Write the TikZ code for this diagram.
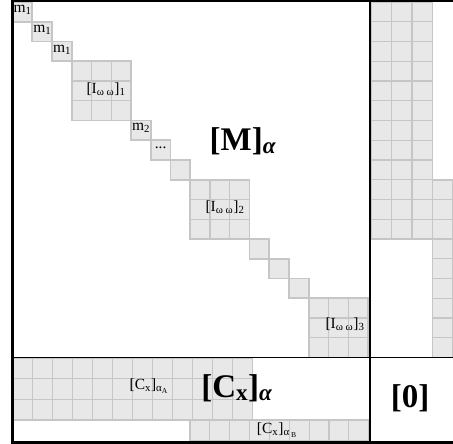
\documentclass[tikz,border=0pt]{standalone}
\usepackage{fontspec}
\setmainfont{Liberation Serif}
\definecolor{cellfill}{HTML}{E8E8E8}
\definecolor{cellline}{HTML}{C6C6C6}
\tikzset{
  cell/.style={fill=cellfill, draw=cellline, line width=1.1pt},
  blockedge/.style={draw=cellline, line width=1.7pt},
  frameline/.style={draw=black, line width=2.2pt},
  divider/.style={draw=black, line width=1.8pt},
  smalllabel/.style={font=\fontsize{15.5}{18}\selectfont, inner sep=0pt},
  biglabel/.style={font=\fontsize{33}{38}\selectfont\bfseries, inner sep=0pt},
}
% x y cols rows cellwidth cellheight
\newcommand\mygridblock[6]{%
  \foreach \i in {1,...,#3}{\foreach \j in {1,...,#4}{
    \draw[cell] ({#1+(\i-1)*#5},{#2+(\j-1)*#6}) rectangle ++(#5,#6);}}
  \draw[blockedge] (#1,#2) rectangle ++({#3*#5},{#4*#6});
}
\begin{document}
\begin{tikzpicture}[x=1pt,y=-1pt]
\useasboundingbox (0,0) rectangle (453,444);
\def\u{19.75}
% diagonal of [M]
\foreach \k in {0,1,2,6,7,8,12,13,14}{\mygridblock{12.5+\k*\u}{2+\k*\u}{1}{1}{\u}{\u}}
\foreach \k in {3,9,15}{\mygridblock{12.5+\k*\u}{2+\k*\u}{3}{3}{\u}{\u}}
% right column (transpose of C)
\mygridblock{371}{2}{3}{12}{20.5}{\u}
\mygridblock{432.5}{179.75}{1}{9}{20.5}{\u}
% bottom row C
\mygridblock{12.5}{358}{12}{3}{20}{20.67}
\mygridblock{190}{420}{9}{1}{19.85}{21}
% frame and dividers
\draw[frameline] (455,1) -- (12.5,1) -- (12.5,442.5) -- (455,442.5);
\draw[divider] (370,1) -- (370,442.5);
\draw[divider] (12.5,357.5) -- (455,357.5);
% labels
\node[smalllabel] (m1a) at (22.6,10) {m\textsubscript{1}};
\node[smalllabel] (m1b) at (42.3,29.7) {m\textsubscript{1}};
\node[smalllabel] (m1c) at (62.1,49.5) {m\textsubscript{1}};
\node[smalllabel] (i1) at (106,89) {[I\textsubscript{ω ω}]\textsubscript{1}};
\node[smalllabel] (m2) at (141.1,128) {m\textsubscript{2}};
\node[smalllabel] (dots) at (160.6,147.5) {...};
\node[biglabel] (M) at (243,141) {[M]\textsubscript{\textit{α}}};
\node[smalllabel] (i2) at (225,207) {[I\textsubscript{ω ω}]\textsubscript{2}};
\node[smalllabel] (i3) at (345,324) {[I\textsubscript{ω ω}]\textsubscript{3}};
\node[smalllabel] (ca) at (149,386) {[C\textsubscript{x}]\textsubscript{α\textsubscript{A}}};
\node[biglabel] (C) at (237,388) {[C\textsubscript{x}]\textsubscript{\textit{α}}};
\node[smalllabel] (cb) at (277,430) {[C\textsubscript{x}]\textsubscript{α\,\textsubscript{B}}};
\node[biglabel] (zero) at (410,398) {[0]};
\end{tikzpicture}
\end{document}
